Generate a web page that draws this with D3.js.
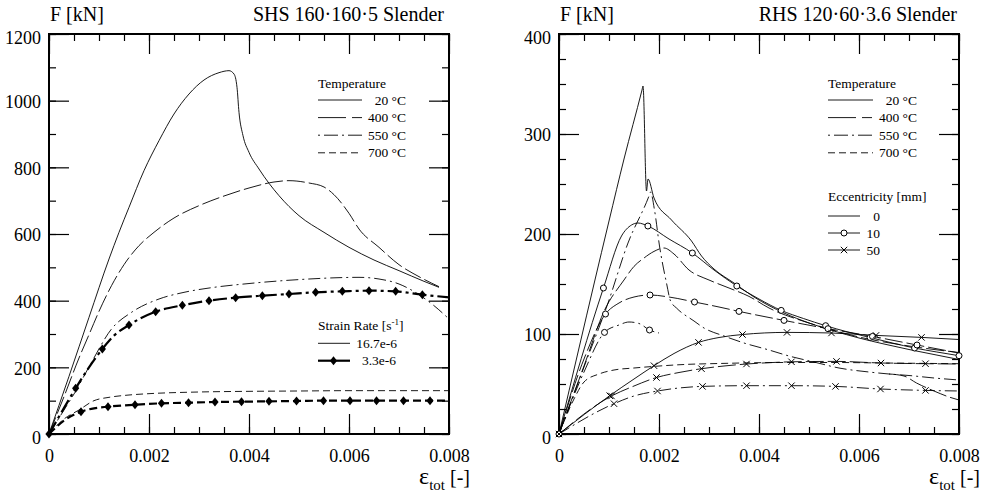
<!DOCTYPE html>
<html><head><meta charset="utf-8">
<script src="https://cdn.jsdelivr.net/npm/d3@7"></script>
<style>
body{margin:0;background:#fff}
svg{display:block}
text{font-family:"Liberation Serif","Times New Roman",serif;fill:#000}
</style>
</head><body>
<svg id="chart" width="990" height="493"></svg>
<script>
// ---------- tick / label data ----------
const X_MAJOR = [0, 0.002, 0.004, 0.006, 0.008];
const X_MINOR = d3.range(17).map(i => i * 0.0005);
const L_Y_MAJOR = [0, 200, 400, 600, 800, 1000, 1200];
const L_Y_MINOR = d3.range(13).map(i => i * 100);
const R_Y_MAJOR = [0, 100, 200, 300, 400];
const R_Y_MINOR = d3.range(17).map(i => i * 25);
const TEMP_LABELS = ["20 °C", "400 °C", "550 °C", "700 °C"];
const RATE_LABELS = ["16.7e-6", "3.3e-6"];
const ECC_LABELS = ["0", "10", "50"];

// ---------- left panel: SHS 160·160·5 (strain, force kN) ----------
const L_T20 = [[0,0],[0.0004,173],[0.0008,350],[0.0012,525],[0.0014,605],[0.0016,680],[0.0019,790],[0.0022,880],[0.0025,960],[0.0028,1020],[0.0031,1062],[0.0034,1084],[0.0036,1090],[0.0037,1080],[0.00376,1040],[0.0038,965],[0.00388,895],[0.004,845],[0.0042,795],[0.0046,715],[0.005,655],[0.0055,605],[0.006,560],[0.0065,522],[0.007,490],[0.0075,458],[0.0078,440]];
const L_T400 = [[0,0],[0.0003,112],[0.0006,228],[0.0008,298],[0.001,368],[0.00125,445],[0.0015,508],[0.0018,565],[0.0021,605],[0.0025,648],[0.003,685],[0.0035,714],[0.004,738],[0.0045,756],[0.0048,760],[0.0052,753],[0.0055,741],[0.0057,718],[0.006,662],[0.0062,615],[0.0066,560],[0.007,508],[0.0074,472],[0.0078,442]];
const L_T550 = [[0,0],[0.0003,72],[0.00052,125],[0.00085,215],[0.00125,315],[0.00165,365],[0.0022,405],[0.0027,425],[0.0033,440],[0.0039,450],[0.0045,458],[0.0052,465],[0.0058,469],[0.0062,470],[0.0066,465],[0.007,450],[0.0074,418],[0.0077,385],[0.008,345]];
const L_T700 = [[0,0],[0.0003,45],[0.0006,72],[0.0009,100],[0.0012,110],[0.0016,117],[0.002,121],[0.003,126],[0.004,128],[0.005,129],[0.006,130],[0.007,130],[0.008,130]];
const L_T550_SLOW = [[0,0],[0.00025,65],[0.000533,137],[0.0008,200],[0.001067,255],[0.0013,295],[0.0016,327],[0.002133,367],[0.002667,386],[0.0032,400],[0.003733,409],[0.004267,415],[0.0048,420],[0.005333,425],[0.005867,428],[0.0064,430],[0.006933,428],[0.007467,418],[0.008,410]];
const L_T550_SLOW_MARKS = [[0,0],[0.000533,137],[0.001067,255],[0.0016,327],[0.002133,367],[0.002667,386],[0.0032,400],[0.003733,409],[0.004267,415],[0.0048,420],[0.005333,425],[0.005867,428],[0.0064,430],[0.006933,428],[0.007467,418]];
const L_T700_SLOW = [[0,0],[0.0003,40],[0.00064,67],[0.0009,77],[0.00118,82],[0.00172,88],[0.00225,92],[0.00279,94],[0.00332,96],[0.00385,97],[0.0044,98],[0.00495,99],[0.00549,100],[0.00602,100],[0.00655,100],[0.00709,100],[0.00762,100],[0.008,100]];
const L_T700_SLOW_MARKS = [[0.00064,67],[0.00118,82],[0.00172,88],[0.00225,92],[0.00279,94],[0.00332,96],[0.00385,97],[0.0044,98],[0.00495,99],[0.00549,100],[0.00602,100],[0.00655,100],[0.00709,100],[0.00762,100]];

// ---------- right panel: RHS 120·60·3.6 ----------
const R_T20_E0 = [[0,0],[0.0004,86],[0.0007,150],[0.001,213],[0.0013,275],[0.00166,344],[0.00168,348],[0.00175,243],[0.00178,255],[0.0019,236],[0.00225,214],[0.00265,193],[0.00285,178],[0.0031,165],[0.0035,151],[0.0039,137],[0.0045,121],[0.005,111],[0.0055,103],[0.006,96],[0.0065,90],[0.007,84.5],[0.0075,79.5],[0.008,74.5]];
const R_T20_E10 = [[0,0],[0.000889,146],[0.00125,198],[0.00145,209],[0.00158,211],[0.001778,208],[0.0022,195],[0.002667,181],[0.0031,164],[0.003556,148],[0.004,135],[0.004444,123.6],[0.004889,115.5],[0.005333,108.3],[0.005778,102],[0.006222,96.5],[0.006667,91],[0.007111,86],[0.007556,82],[0.008,78.3]];
const R_T20_E10_MARKS = [[0,0],[0.000889,146],[0.001778,208],[0.002667,181],[0.003556,148],[0.004444,123.6],[0.005333,108.3],[0.006222,96.5],[0.007111,86],[0.008,78.3]];
const R_T20_E50 = [[0,0],[0.001014,38.3],[0.0015,55],[0.0019,68.3],[0.0023,80.5],[0.00279,91.6],[0.0032,96.5],[0.00367,99.5],[0.00456,101.6],[0.00545,101],[0.00634,98.6],[0.00725,96.6],[0.008,94.5]];
const R_T20_E50_MARKS = [[0,0],[0.001014,38.3],[0.0019,68.3],[0.00279,91.6],[0.00367,99.5],[0.00456,101.6],[0.00545,101],[0.00634,98.6],[0.00725,96.6]];
const R_T400_E0 = [[0,0],[0.0005,68],[0.000913,124],[0.0013,154],[0.0015,167.6],[0.0017,176],[0.0019,182.6],[0.0021,186],[0.0023,180],[0.0026,164],[0.003,154],[0.0034,146],[0.0038,137.6],[0.0042,126],[0.005,111],[0.0055,103.5],[0.006,97],[0.0065,92],[0.007,88],[0.0075,84.5],[0.008,81.5]];
const R_T400_E10 = [[0,0],[0.0005,75],[0.00093,120],[0.0012,131],[0.0015,137],[0.00182,139],[0.0022,137],[0.00271,132],[0.0032,127],[0.0036,122.6],[0.0045,113.6],[0.00538,105.3],[0.00627,97.6],[0.00716,89],[0.008,81]];
const R_T400_E10_MARKS = [[0.00093,120],[0.00182,139],[0.00271,132],[0.0036,122.6],[0.0045,113.6],[0.00538,105.3],[0.00627,97.6],[0.00716,89]];
const R_T400_E50 = [[0,0],[0.00105,38],[0.0015,48],[0.00195,56.5],[0.0024,61.5],[0.00285,65.3],[0.0033,68],[0.00375,70],[0.0042,71.3],[0.00465,72.2],[0.00555,72.6],[0.00644,71],[0.00733,70.3],[0.008,70]];
const R_T400_E50_MARKS = [[0.00105,38],[0.00195,56.5],[0.00285,65.3],[0.00375,70],[0.00465,72.2],[0.00555,72.6],[0.00644,71],[0.00733,70.3]];
const R_T550_E0 = [[0,0],[0.0005,67],[0.00098,131],[0.00138,191],[0.0018,238],[0.00183,242],[0.00191,224],[0.00201,188],[0.00215,151],[0.00223,133],[0.00235,126],[0.0027,113],[0.0029,106],[0.0033,98],[0.0037,91],[0.0042,84],[0.0046,78],[0.0051,72],[0.0056,66],[0.0062,62],[0.0066,60],[0.007,58.5],[0.0075,56],[0.008,54]];
const R_T550_E10 = [[0,0],[0.0005,62],[0.00091,101.6],[0.0012,109],[0.0014,112],[0.0016,110.5],[0.00181,104],[0.002,101]];
const R_T550_E10_MARKS = [[0.00091,101.6],[0.00181,104]];
const R_T550_E50 = [[0,0],[0.0011,30.3],[0.0015,38],[0.00197,43],[0.0024,46],[0.00287,47.6],[0.00375,48.3],[0.00465,48.3],[0.00553,47.6],[0.00643,45],[0.00733,43.6],[0.008,43]];
const R_T550_E50_MARKS = [[0.0011,30.3],[0.00197,43],[0.00287,47.6],[0.00375,48.3],[0.00465,48.3],[0.00553,47.6],[0.00643,45],[0.00733,43.6]];
const R_T700_E0 = [[0,0],[0.0003,35],[0.0005,52],[0.0008,60],[0.0011,64],[0.0015,66],[0.0019,67.6],[0.0025,69.5],[0.0032,70.5],[0.0045,71.5],[0.0055,71.5],[0.0065,71],[0.008,70.3]];
const R_T700_E10 = [[0.0066,60],[0.0069,58],[0.00715,51],[0.0075,43],[0.0078,37],[0.008,34]];

// ---------- styles ----------
const DASH = {20: null, 400: "18,4", 550: "12,4,2,4", 700: "7,4"};
const DASH_BOLD = {550: "14,4,3,4", 700: "8,4"};
const LEG_DASH = {20: null, 400: "28,6,10", 550: "2,4,14,4,2,4,14", 700: "7,4"};
const THIN = 0.9, BOLD = 2.2;

const svg = d3.select("#chart");
const fmtX = v => v === 0 ? "0" : d3.format(".3f")(v);

const xL = d3.scaleLinear().domain([0, 0.008]).range([49, 449]);
const yL = d3.scaleLinear().domain([0, 1200]).range([434, 34]);
const xR = d3.scaleLinear().domain([0, 0.008]).range([559, 959]);
const yR = d3.scaleLinear().domain([0, 400]).range([434, 34]);

function axes(x, y, yMaj, yMin) {
  const g = svg.append("g");
  const [xa, xb] = x.range(), [ya, yb] = y.range();
  const yMax = y.domain()[1];
  const tk = (sel) => {
    sel.select(".domain").remove();
    sel.selectAll(".tick line").attr("stroke", "#000").attr("stroke-width", 1.2);
    sel.selectAll("text").attr("font-size", 18).attr("fill", "#000");
    sel.attr("font-family", null).attr("font-size", null);
  };
  g.append("g").attr("transform", `translate(0,${ya})`)
    .call(d3.axisBottom(x).tickValues(X_MINOR).tickSize(-7).tickFormat("")).call(tk);
  g.append("g").attr("transform", `translate(0,${ya})`)
    .call(d3.axisBottom(x).tickValues(X_MAJOR).tickSize(-20).tickPadding(15).tickFormat(fmtX)).call(tk);
  g.append("g").attr("transform", `translate(0,${yb})`)
    .call(d3.axisTop(x).tickValues(X_MINOR).tickSize(-7).tickFormat("")).call(tk);
  g.append("g").attr("transform", `translate(0,${yb})`)
    .call(d3.axisTop(x).tickValues(X_MAJOR).tickSize(-20).tickFormat("")).call(tk);
  g.append("g").attr("transform", `translate(${xa},0)`)
    .call(d3.axisLeft(y).tickValues(yMin).tickSize(-7).tickFormat("")).call(tk);
  const la = g.append("g").attr("transform", `translate(${xa},0)`)
    .call(d3.axisLeft(y).tickValues(yMaj).tickSize(-20).tickPadding(8).tickFormat(d3.format("d"))).call(tk);
  la.selectAll("text").attr("dy", d => (d === 0 || d === yMax) ? "0.55em" : "0.38em");
  g.append("g").attr("transform", `translate(${xb},0)`)
    .call(d3.axisRight(y).tickValues(yMin).tickSize(-7).tickFormat("")).call(tk);
  g.append("g").attr("transform", `translate(${xb},0)`)
    .call(d3.axisRight(y).tickValues(yMaj).tickSize(-20).tickFormat("")).call(tk);
  g.append("rect").attr("x", xa).attr("y", yb).attr("width", xb - xa).attr("height", ya - yb)
    .attr("fill", "none").attr("stroke", "#000").attr("stroke-width", 2);
}

function curve(x, y, data, dash, w) {
  const line = d3.line().x(d => x(d[0])).y(d => y(d[1])).curve(d3.curveMonotoneX);
  svg.append("path").datum(data).attr("d", line).attr("fill", "none")
    .attr("stroke", "#000").attr("stroke-width", w)
    .attr("stroke-dasharray", dash).attr("stroke-linejoin", "round");
}
const diamondPath = "M0,-4.5L3.6,0L0,4.5L-3.6,0Z";
function marks(x, y, data, kind) {
  const g = svg.append("g");
  data.forEach(d => drawMark(g, x(d[0]), y(d[1]), kind));
}
function drawMark(g, cx, cy, kind) {
  if (kind === "diamond") {
    g.append("path").attr("d", diamondPath).attr("transform", `translate(${cx},${cy})`).attr("fill", "#000");
  } else if (kind === "circle") {
    g.append("circle").attr("cx", cx).attr("cy", cy).attr("r", 3).attr("fill", "#fff").attr("stroke", "#000").attr("stroke-width", 1);
  } else {
    g.append("path").attr("d", "M-3.2,-3.2L3.2,3.2M-3.2,3.2L3.2,-3.2").attr("transform", `translate(${cx},${cy})`)
      .attr("stroke", "#000").attr("stroke-width", 1).attr("fill", "none");
  }
}
function txt(x, y, s, size, anchor) {
  return svg.append("text").attr("x", x).attr("y", y).attr("font-size", size).attr("text-anchor", anchor || "start").text(s);
}

// ---------- LEFT ----------
axes(xL, yL, L_Y_MAJOR, L_Y_MINOR);
curve(xL, yL, L_T20, DASH[20], THIN);
curve(xL, yL, L_T400, DASH[400], THIN);
curve(xL, yL, L_T550, DASH[550], THIN);
curve(xL, yL, L_T700, DASH[700], THIN);
curve(xL, yL, L_T550_SLOW, DASH_BOLD[550], BOLD);
curve(xL, yL, L_T700_SLOW, DASH_BOLD[700], BOLD);
marks(xL, yL, L_T550_SLOW_MARKS, "diamond");
marks(xL, yL, L_T700_SLOW_MARKS, "diamond");

// ---------- RIGHT ----------
axes(xR, yR, R_Y_MAJOR, R_Y_MINOR);
curve(xR, yR, R_T20_E0, DASH[20], THIN);
curve(xR, yR, R_T20_E10, DASH[20], THIN);
curve(xR, yR, R_T20_E50, DASH[20], THIN);
curve(xR, yR, R_T400_E0, DASH[400], THIN);
curve(xR, yR, R_T400_E10, DASH[400], THIN);
curve(xR, yR, R_T400_E50, DASH[400], THIN);
curve(xR, yR, R_T550_E0, DASH[550], THIN);
curve(xR, yR, R_T550_E10, DASH[550], THIN);
curve(xR, yR, R_T550_E50, DASH[550], THIN);
curve(xR, yR, R_T700_E0, DASH[700], THIN);
curve(xR, yR, R_T700_E10, DASH[400], THIN);
marks(xR, yR, R_T20_E10_MARKS, "circle");
marks(xR, yR, R_T400_E10_MARKS, "circle");
marks(xR, yR, R_T550_E10_MARKS, "circle");
marks(xR, yR, R_T20_E50_MARKS, "cross");
marks(xR, yR, R_T400_E50_MARKS, "cross");
marks(xR, yR, R_T550_E50_MARKS, "cross");

// ---------- titles ----------
txt(50, 21, "F [kN]", 20);
txt(444, 21, "SHS 160·160·5 Slender", 20, "end");
txt(560, 21, "F [kN]", 20);
txt(957, 21, "RHS 120·60·3.6 Slender", 20, "end");
function epsLabel(xEnd) {
  const t = svg.append("text").attr("x", xEnd).attr("y", 484).attr("text-anchor", "end");
  t.append("tspan").attr("font-size", 24).text("ε");
  t.append("tspan").attr("font-size", 15).attr("dy", 6).text("tot");
  t.append("tspan").attr("font-size", 20).attr("dy", -6).text(" [-]");
}
epsLabel(470);
epsLabel(980);

// ---------- legends ----------
const LEG_TEMPS = [20, 400, 550, 700];
function tempLegend(x0, x1, xText) {
  txt(x0, 87.5, "Temperature", 13.5);
  LEG_TEMPS.forEach((t, i) => {
    const yy = 100 + i * 17.6;
    svg.append("line").attr("x1", x0).attr("x2", x1).attr("y1", yy).attr("y2", yy)
      .attr("stroke", "#000").attr("stroke-width", THIN).attr("stroke-dasharray", LEG_DASH[t]);
    txt(xText, yy + 4.5, TEMP_LABELS[i], 13.5, "end");
  });
}
tempLegend(318, 362, 406);
tempLegend(828, 873, 917);

const sr = svg.append("text").attr("x", 318).attr("y", 329.5).attr("font-size", 13.5);
sr.append("tspan").text("Strain Rate [s");
sr.append("tspan").attr("font-size", 9).attr("dy", -5).text("-1");
sr.append("tspan").attr("dy", 5).text("]");
svg.append("line").attr("x1", 318).attr("x2", 350).attr("y1", 343.3).attr("y2", 343.3).attr("stroke", "#000").attr("stroke-width", THIN);
txt(397, 347.8, RATE_LABELS[0], 13.5, "end");
svg.append("line").attr("x1", 318).attr("x2", 350).attr("y1", 360.7).attr("y2", 360.7).attr("stroke", "#000").attr("stroke-width", BOLD);
drawMark(svg, 333.5, 360.7, "diamond");
txt(396, 365.2, RATE_LABELS[1], 13.5, "end");

txt(828, 201, "Eccentricity [mm]", 13.5);
const ECC_KIND = [null, "circle", "cross"];
ECC_LABELS.forEach((s, i) => {
  const yy = 216 + i * 17;
  svg.append("line").attr("x1", 828).attr("x2", 860).attr("y1", yy).attr("y2", yy).attr("stroke", "#000").attr("stroke-width", THIN);
  if (ECC_KIND[i]) drawMark(svg, 844, yy, ECC_KIND[i]);
  txt(880, yy + 4.5, s, 13.5, "end");
});
</script>
</body></html>
